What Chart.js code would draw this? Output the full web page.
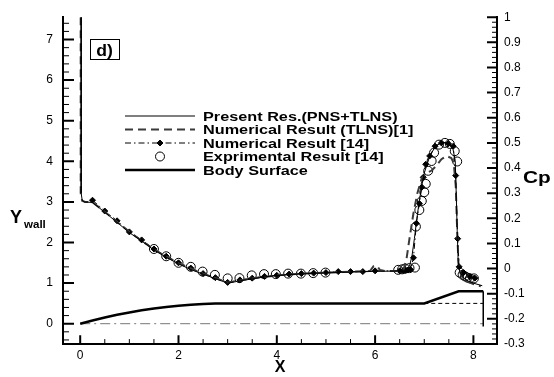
<!DOCTYPE html>
<html>
<head>
<meta charset="utf-8">
<script src="https://cdn.jsdelivr.net/npm/chart.js@4/dist/chart.umd.min.js"></script>
<style>
  body { margin: 0; background: #fff; }
</style>
</head>
<body>
<canvas id="chart" width="554" height="377"></canvas>
<script>
// wall pressure coefficient (right axis) and body contour (left axis)
const xTicks = [0, 2, 4, 6, 8];
const yTicks = [0, 1, 2, 3, 4, 5, 6, 7];
const cpTicks = [-0.3, -0.2, -0.1, 0, 0.1, 0.2, 0.3, 0.4, 0.5, 0.6, 0.7, 0.8, 0.9, 1];
const xMinor = [0.5, 1, 1.5, 2.5, 3, 3.5, 4.5, 5, 5.5, 6.5, 7, 7.5];

const legendLabels = [
  'Present Res.(PNS+TLNS)',
  'Numerical Result (TLNS)[1]',
  'Numerical Result [14]',
  'Exprimental Result [14]',
  'Body Surface'
];

// [x, Cp]
const presentRes = [[0.02,1.0],[0.02,0.30],[0.04,0.272],[0.08,0.265],[0.25,0.263],[0.5,0.224],[0.75,0.184],
  [1.0,0.143],[1.25,0.11],[1.5,0.074],[1.75,0.045],[2.0,0.019],[2.25,-0.004],[2.5,-0.022],[2.75,-0.04],
  [3.0,-0.058],[3.25,-0.049],[3.5,-0.041],[3.75,-0.033],[4.0,-0.028],[4.5,-0.021],[5.0,-0.017],[5.5,-0.014],
  [6.0,-0.011],[6.4,-0.01],[6.6,-0.006],[6.7,0.01],[6.75,0.05],[6.8,0.12],[6.85,0.2],[6.9,0.27],[6.95,0.33],
  [7.0,0.38],[7.1,0.44],[7.2,0.478],[7.3,0.497],[7.4,0.502],[7.5,0.497],[7.58,0.48],[7.63,0.43],[7.65,0.3],
  [7.67,0.15],[7.69,0.03],[7.72,-0.012],[7.8,-0.036],[7.9,-0.05],[8.0,-0.058],[8.18,-0.068]];

const tlns = [[0.01,1.0],[0.01,0.30],[0.04,0.27],[0.1,0.265],[0.25,0.264],[0.5,0.226],[0.75,0.186],[1.0,0.146],
  [1.5,0.076],[2.0,0.021],[2.5,-0.02],[3.0,-0.056],[3.5,-0.039],[4.0,-0.027],[4.5,-0.02],[5.0,-0.016],
  [5.5,-0.013],[5.9,-0.009],[5.97,0.01],[6.05,0.008],[6.1,-0.006],[6.2,-0.01],[6.5,-0.009],[6.58,-0.004],
  [6.64,0.04],[6.7,0.12],[6.78,0.22],[6.86,0.3],[6.95,0.36],[7.05,0.38],[7.15,0.39],[7.25,0.41],[7.35,0.435],
  [7.45,0.448],[7.55,0.44],[7.6,0.42],[7.64,0.33],[7.67,0.15],[7.7,0.0],[7.75,-0.025],[7.85,-0.05],
  [8.0,-0.062],[8.15,-0.07]];

const numerical14 = [[0.25,0.272],[0.5,0.229],[0.75,0.19],[1.0,0.146],[1.25,0.114],[1.5,0.078],[1.75,0.049],
  [2.0,0.023],[2.25,0.002],[2.5,-0.02],[2.75,-0.036],[3.0,-0.055],[3.25,-0.045],[3.5,-0.038],[3.75,-0.031],
  [4.0,-0.027],[4.25,-0.022],[4.5,-0.02],[4.75,-0.018],[5.0,-0.016],[5.25,-0.012],[5.5,-0.012],[5.75,-0.012],
  [6.0,-0.009],[6.5,-0.009],[6.57,-0.008],[6.62,-0.007],[6.67,-0.006],[6.72,-0.004],[6.78,0.043],[6.84,0.18],
  [6.9,0.259],[6.95,0.324],[6.98,0.363],[7.03,0.415],[7.11,0.448],[7.22,0.487],[7.35,0.5],[7.49,0.497],
  [7.59,0.487],[7.64,0.37],[7.68,0.119],[7.71,0.007],[7.8,-0.016],[7.93,-0.032],[8.03,-0.038]];

const experiment = [[1.5,0.078],[1.75,0.049],[2.0,0.023],[2.25,0.007],[2.49,-0.012],[2.74,-0.025],[3.0,-0.039],
  [3.24,-0.038],[3.49,-0.027],[3.74,-0.022],[3.98,-0.022],[4.23,-0.02],[4.49,-0.02],[4.74,-0.018],[4.99,-0.016],
  [6.47,-0.005],[6.55,-0.003],[6.61,0.0],[6.7,0.002],[6.81,0.004],[6.83,0.167],[6.9,0.233],[6.95,0.269],
  [7.0,0.304],[7.03,0.337],[7.08,0.389],[7.15,0.428],[7.2,0.461],[7.3,0.493],[7.42,0.5],[7.52,0.496],
  [7.62,0.467],[7.67,0.426],[7.72,-0.016],[7.78,-0.025],[7.83,-0.031],[7.88,-0.036],[7.93,-0.039],[8.01,-0.039]];

// [x, Y_wall]
const body = [[0,0],[0.25,0.08],[0.5,0.153],[0.75,0.219],[1.0,0.278],[1.25,0.33],[1.5,0.375],[1.75,0.413],
  [2.0,0.444],[2.25,0.469],[2.5,0.486],[2.75,0.497],[3.0,0.5],[7.0,0.5],[7.7,0.8],[8.2,0.8]];
const baseDashed = [[7.0,0.5],[8.2,0.5]];
const baseEnd = [[8.2,0.8],[8.2,-0.07]];
const centerLine = [[0,0],[8.2,0]];

// axis ranges and the fixed plot box (set by layout padding + afterFit below)
const X_MIN = -0.35, X_MAX = 8.48;
const Y_MIN = -0.5, Y_MAX = 7.55;
const CP_MIN = -0.3, CP_MAX = 1.0;
const PLOT_W = 554 - 63 - 57, PLOT_H = 377 - 12 - 33;

const pts = arr => arr.map(([x, y]) => ({x, y}));
const FONT = '"Liberation Sans", Arial, sans-serif';

function minorTicks(from, to, step, major) {
  const out = [];
  const n = Math.round((to - from) / step);
  for (let i = 0; i <= n; i++) {
    const v = Math.round((from + i * step) * 1000) / 1000;
    if (Math.abs(v / major - Math.round(v / major)) > 1e-6) out.push(v);
  }
  return out;
}
const yMinor = minorTicks(-0.4, 7.4, 0.2, 1);
const cpMinor = minorTicks(-0.28, 0.98, 0.02, 0.1);

// short inward tick marks as broken line datasets
const perPxX = (X_MAX - X_MIN) / PLOT_W;
const perPxY = (Y_MAX - Y_MIN) / PLOT_H;
function bottomMarks(vals, px) {
  const out = [];
  vals.forEach(v => out.push({x: v, y: Y_MIN}, {x: v, y: Y_MIN + px * perPxY}, {x: v, y: null}));
  return out;
}
function leftMarks(vals, px) {
  const out = [];
  vals.forEach(v => out.push({x: X_MIN, y: v}, {x: X_MIN + px * perPxX, y: v}, {x: X_MIN, y: null}));
  return out;
}
function rightMarks(vals, px) {
  const out = [];
  vals.forEach(v => out.push({x: X_MAX - px * perPxX, y: v}, {x: X_MAX, y: v}, {x: X_MAX, y: null}));
  return out;
}
const markStyle = w => ({showLine: true, borderColor: '#000', borderWidth: w, pointRadius: 0,
  spanGaps: false, clip: 4});

function wideText(ctx, text, x, y, font, stretch, align) {
  ctx.save();
  ctx.font = font;
  ctx.textAlign = align || 'left';
  ctx.textBaseline = 'alphabetic';
  ctx.translate(x, y);
  ctx.scale(stretch, 1);
  ctx.fillText(text, 0, 0);
  ctx.restore();
}

// panel tag, axis names and the legend inside the plot
const annot = {
  id: 'annot',
  afterDraw(chart) {
    const ctx = chart.ctx;
    ctx.save();
    ctx.setLineDash([]);
    ctx.strokeStyle = '#000';
    ctx.fillStyle = '#000';
    ctx.lineWidth = 1;
    ctx.strokeRect(90.5, 39.5, 29, 20);
    wideText(ctx, 'd)', 104.5, 56, 'bold 16px ' + FONT, 1.1, 'center');

    wideText(ctx, 'Y', 10, 223, 'bold 18px ' + FONT, 1.0);
    wideText(ctx, 'wall', 24, 228, 'bold 11px ' + FONT, 1.05);
    wideText(ctx, 'Cp', 523, 183, 'bold 16px ' + FONT, 1.3);

    const ds = chart.data.datasets;
    const rows = [116, 129.5, 143, 156.5, 170];
    legendLabels.forEach((label, i) => {
      const d = ds[i];
      const ry = rows[i];
      if (d.showLine !== false) {
        ctx.save();
        ctx.strokeStyle = d.borderColor;
        ctx.lineWidth = d.borderWidth;
        ctx.setLineDash(d.borderDash || []);
        ctx.beginPath(); ctx.moveTo(125, ry); ctx.lineTo(195, ry); ctx.stroke();
        ctx.restore();
      }
      if (d.pointRadius > 0) {
        ctx.save();
        ctx.setLineDash([]);
        ctx.lineWidth = 1;
        ctx.strokeStyle = '#000';
        ctx.fillStyle = d.pointBackgroundColor;
        Chart.helpers.drawPoint(ctx, {pointStyle: d.pointStyle, radius: d.pointRadius, borderWidth: 1, rotation: 0}, 160, ry);
        ctx.restore();
      }
      ctx.fillStyle = '#000';
      wideText(ctx, label, 203, ry + 4.5, 'bold 13px ' + FONT, 1.25);
    });
    ctx.restore();
  }
};

const tickFont = {family: FONT, size: 12};

new Chart(document.getElementById('chart'), {
  type: 'scatter',
  data: {
    datasets: [
      {data: pts(presentRes), yAxisID: 'y2', showLine: true, borderColor: '#000', borderWidth: 1,
       pointRadius: 0, tension: 0},
      {data: pts(tlns), yAxisID: 'y2', showLine: true, borderColor: '#3a3a3a', borderWidth: 2,
       borderDash: [8, 5], pointRadius: 0, tension: 0},
      {data: pts(numerical14), yAxisID: 'y2', showLine: true, borderColor: '#000', borderWidth: 1,
       borderDash: [6, 3, 1.5, 3], pointStyle: 'rectRot', pointRadius: 3,
       pointBackgroundColor: '#000', pointBorderColor: '#000', pointBorderWidth: 1},
      {data: pts(experiment), yAxisID: 'y2', showLine: false, pointStyle: 'circle', pointRadius: 4.5,
       pointBackgroundColor: 'rgba(0,0,0,0)', pointBorderColor: '#000', pointBorderWidth: 1},
      {data: pts(body), yAxisID: 'y', showLine: true, borderColor: '#000', borderWidth: 2.5,
       pointRadius: 0, tension: 0},
      {data: pts(baseDashed), yAxisID: 'y', showLine: true, borderColor: '#000', borderWidth: 1,
       borderDash: [4, 3], pointRadius: 0},
      {data: pts(baseEnd), yAxisID: 'y', showLine: true, borderColor: '#000', borderWidth: 1.5,
       pointRadius: 0},
      {data: pts(centerLine), yAxisID: 'y', showLine: true, borderColor: '#777', borderWidth: 1,
       borderDash: [10, 4, 2, 4], pointRadius: 0},
      // tick marks
      {data: bottomMarks(xTicks, 9), yAxisID: 'y', ...markStyle(2)},
      {data: bottomMarks(xMinor, 5), yAxisID: 'y', ...markStyle(1)},
      {data: leftMarks(yTicks, 11), yAxisID: 'y', ...markStyle(2)},
      {data: leftMarks(yMinor, 6), yAxisID: 'y', ...markStyle(1)},
      {data: rightMarks(cpTicks, 10), yAxisID: 'y2', ...markStyle(2)},
      {data: rightMarks(cpMinor, 5), yAxisID: 'y2', ...markStyle(1)}
    ]
  },
  options: {
    responsive: false,
    animation: false,
    events: [],
    layout: {padding: {top: 12, left: 0, right: 0, bottom: 0}},
    plugins: {legend: {display: false}, tooltip: {enabled: false}},
    scales: {
      x: {
        type: 'linear', min: X_MIN, max: X_MAX,
        grid: {display: false, drawTicks: false},
        border: {display: true, width: 2, color: '#000'},
        afterBuildTicks: s => { s.ticks = xTicks.map(v => ({value: v})); },
        afterFit: s => { s.height = 33; },
        ticks: {color: '#000', font: tickFont, padding: 4, autoSkip: false, maxRotation: 0},
        title: {display: true, text: 'X', color: '#000', padding: 0,
                font: {family: FONT, size: 16, weight: 'bold'}}
      },
      y: {
        type: 'linear', position: 'left', min: Y_MIN, max: Y_MAX,
        grid: {display: false, drawTicks: false},
        border: {display: true, width: 2, color: '#000'},
        afterBuildTicks: s => { s.ticks = yTicks.map(v => ({value: v})); },
        afterFit: s => { s.width = 63; },
        ticks: {color: '#000', font: tickFont, padding: 10, autoSkip: false}
      },
      y2: {
        type: 'linear', position: 'right', min: CP_MIN, max: CP_MAX,
        grid: {display: false, drawTicks: false},
        border: {display: true, width: 2, color: '#000'},
        afterBuildTicks: s => { s.ticks = cpTicks.map(v => ({value: v})); },
        afterFit: s => { s.width = 57; },
        ticks: {color: '#000', font: tickFont, padding: 7, autoSkip: false,
                callback: v => String(Math.round(v * 10) / 10)}
      }
    }
  },
  plugins: [annot]
});
</script>
</body>
</html>
